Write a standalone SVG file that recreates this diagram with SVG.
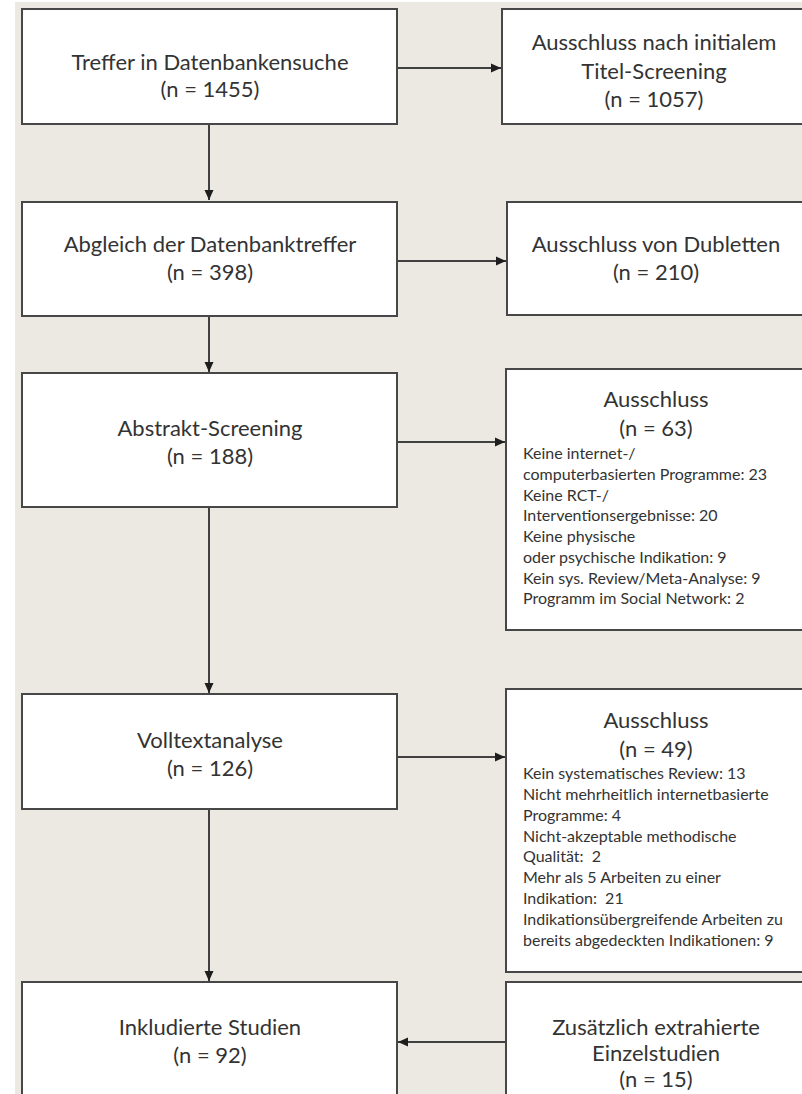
<svg xmlns="http://www.w3.org/2000/svg" width="802" height="1094" viewBox="0 0 802 1094">
<style>
.box{fill:#ffffff;stroke:#474747;stroke-width:2}
.t{font-family:Lato,"Liberation Sans",sans-serif;font-size:22px;fill:#333333;text-anchor:middle}
.s{font-family:Lato,"Liberation Sans",sans-serif;font-size:16px;fill:#333333}
.c{fill:none;stroke:#404040;stroke-width:2}
</style>
<defs>
<marker id="ah" markerUnits="userSpaceOnUse" markerWidth="12" markerHeight="12" viewBox="0 0 12 12" refX="11" refY="6" orient="auto">
<path d="M1,1.5 L11,6 L1,10.5 Z" fill="#1e1e1e"/>
</marker>
</defs>
<rect x="0" y="0" width="802" height="1094" fill="#ffffff"/>
<rect x="15" y="2" width="787" height="1092" fill="#ebe9e2"/>
<g id="connectors">
<path class="c" d="M209,124 V200" marker-end="url(#ah)"/>
<path class="c" d="M209,316 V372" marker-end="url(#ah)"/>
<path class="c" d="M209,507 V693" marker-end="url(#ah)"/>
<path class="c" d="M209,809 V981" marker-end="url(#ah)"/>
<path class="c" d="M397,68 H501" marker-end="url(#ah)"/>
<path class="c" d="M397,261 H506" marker-end="url(#ah)"/>
<path class="c" d="M397,442 H505" marker-end="url(#ah)"/>
<path class="c" d="M397,757 H505" marker-end="url(#ah)"/>
<path class="c" d="M506,1042 H398" marker-end="url(#ah)"/>
</g>
<g id="n1">
<rect class="box" x="22" y="9" width="375" height="115"/>
<text class="t" x="210" y="70">Treffer in Datenbankensuche</text>
<text class="t" x="210" y="97">(n = 1455)</text>
</g>
<g id="n2">
<rect class="box" x="502" y="9" width="304" height="115"/>
<text class="t" x="654" y="50">Ausschluss nach initialem</text>
<text class="t" x="654" y="79">Titel-Screening</text>
<text class="t" x="654" y="107">(n = 1057)</text>
</g>
<g id="n3">
<rect class="box" x="22" y="202" width="375" height="114"/>
<text class="t" x="210" y="252">Abgleich der Datenbanktreffer</text>
<text class="t" x="210" y="280">(n = 398)</text>
</g>
<g id="n4">
<rect class="box" x="507" y="202" width="299" height="113"/>
<text class="t" x="656" y="252">Ausschluss von Dubletten</text>
<text class="t" x="656" y="280">(n = 210)</text>
</g>
<g id="n5">
<rect class="box" x="22" y="373" width="375" height="134"/>
<text class="t" x="210" y="436">Abstrakt-Screening</text>
<text class="t" x="210" y="464">(n = 188)</text>
</g>
<g id="n6">
<rect class="box" x="506" y="369" width="300" height="261"/>
<text class="t" x="656" y="407">Ausschluss</text>
<text class="t" x="656" y="436">(n = 63)</text>
<text class="s" x="523" y="459">Keine internet-/</text>
<text class="s" x="523" y="480">computerbasierten Programme: 23</text>
<text class="s" x="523" y="501">Keine RCT-/</text>
<text class="s" x="523" y="521">Interventionsergebnisse: 20</text>
<text class="s" x="523" y="542">Keine physische</text>
<text class="s" x="523" y="563">oder psychische Indikation: 9</text>
<text class="s" x="523" y="584">Kein sys. Review/Meta-Analyse: 9</text>
<text class="s" x="523" y="604">Programm im Social Network: 2</text>
</g>
<g id="n7">
<rect class="box" x="22" y="694" width="375" height="115"/>
<text class="t" x="210" y="748">Volltextanalyse</text>
<text class="t" x="210" y="776">(n = 126)</text>
</g>
<g id="n8">
<rect class="box" x="506" y="689" width="300" height="283"/>
<text class="t" x="656" y="728">Ausschluss</text>
<text class="t" x="656" y="757">(n = 49)</text>
<text class="s" x="523" y="779">Kein systematisches Review: 13</text>
<text class="s" x="523" y="800">Nicht mehrheitlich internetbasierte</text>
<text class="s" x="523" y="821">Programme: 4</text>
<text class="s" x="523" y="842">Nicht-akzeptable methodische</text>
<text class="s" x="523" y="862">Qualität:&#160; 2</text>
<text class="s" x="523" y="883">Mehr als 5 Arbeiten zu einer</text>
<text class="s" x="523" y="904">Indikation:&#160; 21</text>
<text class="s" x="523" y="925">Indikationsübergreifende Arbeiten zu</text>
<text class="s" x="523" y="946">bereits abgedeckten Indikationen: 9</text>
</g>
<g id="n9">
<rect class="box" x="22" y="982" width="375" height="125"/>
<text class="t" x="210" y="1035">Inkludierte Studien</text>
<text class="t" x="210" y="1063">(n = 92)</text>
</g>
<g id="n10">
<rect class="box" x="506" y="982" width="300" height="125"/>
<text class="t" x="656" y="1035">Zusätzlich extrahierte</text>
<text class="t" x="656" y="1061">Einzelstudien</text>
<text class="t" x="656" y="1087">(n = 15)</text>
</g>
</svg>
